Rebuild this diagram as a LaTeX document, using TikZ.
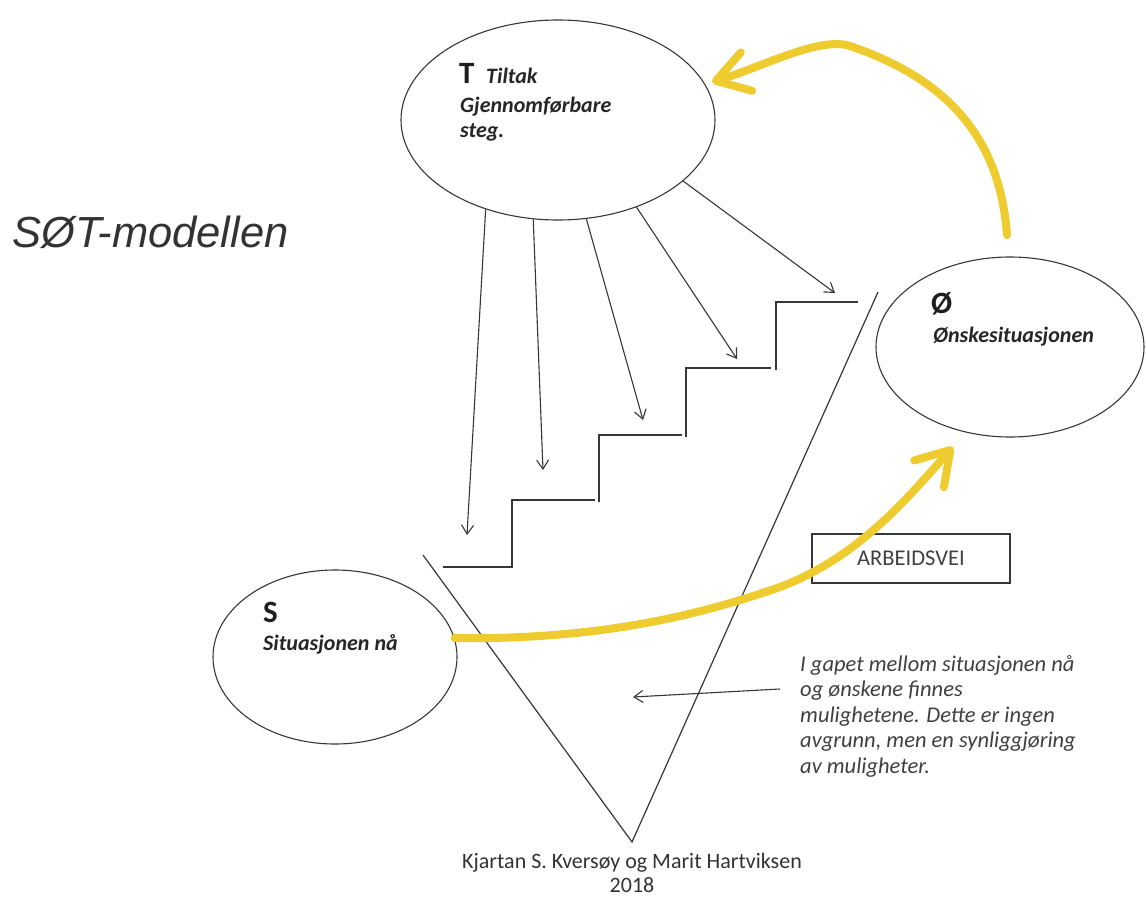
\documentclass[tikz,border=0pt]{standalone}
\usepackage{fontspec}
\setmainfont{Carlito}
\newfontfamily\arialfont{Liberation Sans}
\usetikzlibrary{arrows.meta,shapes.geometric}
\definecolor{sotyellow}{RGB}{238,204,48}
\definecolor{inkgray}{RGB}{55,55,55}
\definecolor{txtgray}{RGB}{64,64,64}
\begin{document}
\begin{tikzpicture}[x=1pt,y=-1pt,
  oval/.style={draw=inkgray,line width=1.1pt,ellipse,inner sep=0pt},
  thinline/.style={draw=inkgray,line width=1.2pt},
  tarrow/.style={draw=inkgray,line width=1.1pt,-{Straight Barb[length=9pt,width=12pt]}},
  yarrow/.style={draw=sotyellow,line width=8pt,line cap=round,-{Straight Barb[length=32pt,width=40pt,round]}},
  big/.style={inner sep=0pt,anchor=base west,text=black!88,font=\bfseries\fontsize{31}{31}\selectfont},
  sub/.style={inner sep=0pt,anchor=base west,text=black!85,font=\bfseries\itshape\fontsize{22}{22}\selectfont},
]
\useasboundingbox (0,0) rectangle (1146,899);
\fill[white] (0,0) rectangle (1146,899);

% title
\node[inner sep=0pt,anchor=base west,text=black!80,font=\arialfont\itshape\fontsize{43.5}{43.5}\selectfont] (title) at (12,247) {SØT-modellen};

% ellipses
\node[oval,minimum width=314pt,minimum height=200pt] (T) at (558,120) {};
\node[oval,minimum width=268pt,minimum height=180pt] (O) at (1010,347) {};
\node[oval,minimum width=244pt,minimum height=174pt] (S) at (335,657) {};

% ellipse texts
\node[big] (Tt) at (459,84) {T};
\node[sub] (Tt1) at (486,84) {Tiltak};
\node[sub] (Tt2) at (460,112) {Gjennomførbare};
\node[sub] (Tt3) at (460,137) {steg.};
\node[big] (Ot) at (931,313) {Ø};
\node[sub] (Ot1) at (933,342) {Ønskesituasjonen};
\node[big] (St) at (263,622) {S};
\node[sub] (St1) at (263,650) {Situasjonen nå};

% staircase
\draw[thinline] (443,567) -- (512,567) -- (512,500) -- (595,500);
\draw[thinline] (599,502) -- (599,435) -- (682,435);
\draw[thinline] (686,437) -- (686,368) -- (771,368);
\draw[thinline] (776,370) -- (776,302) -- (858,302);

% V gap
\draw[thinline] (423,555) -- (632,842) -- (878,292);

% arrows from T to the steps
\coordinate (a1) at (467,535);
\coordinate (a2) at (543,470);
\coordinate (a3) at (643,420);
\coordinate (a4) at (737,359);
\coordinate (a5) at (835,293);
\draw[tarrow] (T.231) -- (a1);
\draw[tarrow] (T.256) -- (a2);
\draw[tarrow] (T.286) -- (a3);
\draw[tarrow] (T.312) -- (a4);
\draw[tarrow] (T.334) -- (a5);

% ARBEIDSVEI box
\node[draw=inkgray,line width=1.1pt,minimum width=198pt,minimum height=49pt,inner sep=0pt,text=txtgray,font=\fontsize{22.5}{22.5}\selectfont] (A) at (911,558.5) {ARBEIDSVEI};

% yellow arrows
\coordinate (y1m) at (780,587);
\coordinate (y1e) at (953,447);
\draw[yarrow] (S.9) .. controls (600,640) and (700,615) .. (y1m) .. controls (860,557) and (910,495) .. (y1e);
\coordinate (y2s) at (1007,235);
\coordinate (y2m) at (850,46);
\coordinate (y2e) at (712,82);
\draw[yarrow] (y2s) .. controls (1000,140) and (950,80) .. (y2m) .. controls (820,36) and (762,67) .. (y2e);

% paragraph
\node[inner sep=0pt,anchor=north west,align=left,text=txtgray,font=\itshape\fontsize{22.5}{25.5}\selectfont] (P) at (800,655) {I gapet mellom situasjonen nå\\og ønskene finnes\\mulighetene. Dette er ingen\\avgrunn, men en synliggjøring\\av muligheter.};
\coordinate (p1) at (780,689);
\coordinate (p2) at (633,697);
\draw[tarrow] (p1) -- (p2);

% credits
\node[inner sep=0pt,align=center,text=black!80,font=\fontsize{22}{24}\selectfont] (C) at (632,873) {Kjartan S. Kversøy og Marit Hartviksen\\2018};
\end{tikzpicture}
\end{document}
